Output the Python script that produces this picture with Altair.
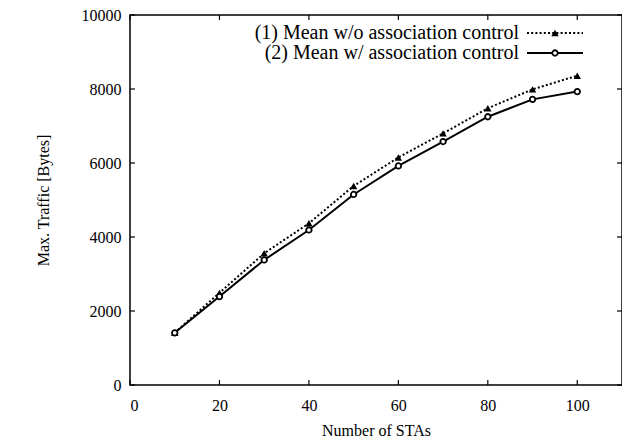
import altair as alt
import pandas as pd

stas = [10, 20, 30, 40, 50, 60, 70, 80, 90, 100]
mean_wo = [1410, 2490, 3560, 4370, 5380, 6150, 6800, 7480, 7990, 8360]
mean_w = [1410, 2390, 3380, 4190, 5150, 5920, 6580, 7250, 7720, 7930]
series_labels = ["(1) Mean w/o association control", "(2) Mean w/  association control"]
x_ticks = [0, 20, 40, 60, 80, 100]
y_ticks = [0, 2000, 4000, 6000, 8000, 10000]

FONT = "Liberation Serif"
W, H = 492, 370
TICK = 5

df1 = pd.DataFrame({"sta": stas, "traffic": mean_wo})
df2 = pd.DataFrame({"sta": stas, "traffic": mean_w})
xt = pd.DataFrame({"sta": x_ticks})
yt = pd.DataFrame({"traffic": y_ticks})

xscale = alt.Scale(domain=[0, 110], nice=False, zero=False)
yscale = alt.Scale(domain=[0, 10000], nice=False)

x_axis = alt.Axis(
    values=x_ticks, title="Number of STAs", orient="bottom", domain=False, grid=False,
    ticks=False, labelPadding=12, titlePadding=9, format="d")
y_axis = alt.Axis(
    values=y_ticks, title="Max. Traffic [Bytes]", orient="left", domain=False, grid=False,
    ticks=False, labelPadding=9, titlePadding=30, format="d")

X = alt.X("sta:Q", scale=xscale, axis=x_axis)
Y = alt.Y("traffic:Q", scale=yscale, axis=y_axis)

line_wo = alt.Chart(df1).mark_line(color="black", strokeWidth=2, strokeDash=[2, 2.2]).encode(x=X, y=Y)
line_w = alt.Chart(df2).mark_line(color="black", strokeWidth=2).encode(x=X, y=Y)
pts_wo = alt.Chart(df1).mark_point(shape="triangle-up", filled=True, color="black", size=55,
                                    opacity=1).encode(x=X, y=Y)
pts_w = alt.Chart(df2).mark_point(shape="circle", filled=False, color="black", fill="white",
                                   fillOpacity=1, strokeWidth=1.8, size=30, opacity=1).encode(x=X, y=Y)

# inward ticks on all four sides (gnuplot style frame)
tick_style = dict(color="black", strokeWidth=1.2)
ticks_left = alt.Chart(yt).mark_rule(**tick_style).encode(
    y=Y, x=alt.value(0), x2=alt.value(TICK))
ticks_right = alt.Chart(yt).mark_rule(**tick_style).encode(
    y=Y, x=alt.value(W - TICK), x2=alt.value(W))
ticks_bottom = alt.Chart(xt).mark_rule(**tick_style).encode(
    x=X, y=alt.value(H - TICK), y2=alt.value(H))
ticks_top = alt.Chart(xt).mark_rule(**tick_style).encode(
    x=X, y=alt.value(0), y2=alt.value(TICK))

# legend (top right, symbols to the right of labels)
leg1 = pd.DataFrame({"label": [series_labels[0]]})
leg2 = pd.DataFrame({"label": [series_labels[1]]})
text_x, row1, row2 = 389, 18, 38
lx1, lx2, lxm = 397, 453, 425
LEG_FS = 20

leg_text1 = alt.Chart(leg1).mark_text(align="right", baseline="middle", font=FONT, fontSize=LEG_FS,
                                      color="black").encode(
    x=alt.value(text_x), y=alt.value(row1), text="label:N")
leg_text2 = alt.Chart(leg2).mark_text(align="right", baseline="middle", font=FONT, fontSize=LEG_FS,
                                      color="black").encode(
    x=alt.value(text_x), y=alt.value(row2), text="label:N")
leg_line1 = alt.Chart(leg1).mark_rule(color="black", strokeWidth=2, strokeDash=[2, 2.2]).encode(
    x=alt.value(lx1), x2=alt.value(lx2), y=alt.value(row1))
leg_line2 = alt.Chart(leg2).mark_rule(color="black", strokeWidth=2).encode(
    x=alt.value(lx1), x2=alt.value(lx2), y=alt.value(row2))
leg_pt1 = alt.Chart(leg1).mark_point(shape="triangle-up", filled=True, color="black", size=55,
                                      opacity=1).encode(x=alt.value(lxm), y=alt.value(row1))
leg_pt2 = alt.Chart(leg2).mark_point(shape="circle", filled=False, color="black", fill="white",
                                      fillOpacity=1, strokeWidth=1.8, size=30, opacity=1).encode(
    x=alt.value(lxm), y=alt.value(row2))

chart = alt.layer(
    line_wo, line_w, pts_wo, pts_w,
    ticks_left, ticks_right, ticks_bottom, ticks_top,
    leg_line1, leg_line2, leg_pt1, leg_pt2, leg_text1, leg_text2,
).properties(
    width=W, height=H,
    background="white",
    autosize=alt.AutoSizeParams(type="none"),
    padding={"left": 122, "top": 7, "right": 0, "bottom": 62},
).configure_view(
    stroke="black", strokeWidth=1.5
).configure_axis(
    labelFont=FONT, titleFont=FONT, labelFontSize=16, titleFontSize=16,
    labelColor="black", titleColor="black", titleFontWeight="normal",
)

chart.save("out.html", embed_options={"renderer": "svg", "actions": False})
